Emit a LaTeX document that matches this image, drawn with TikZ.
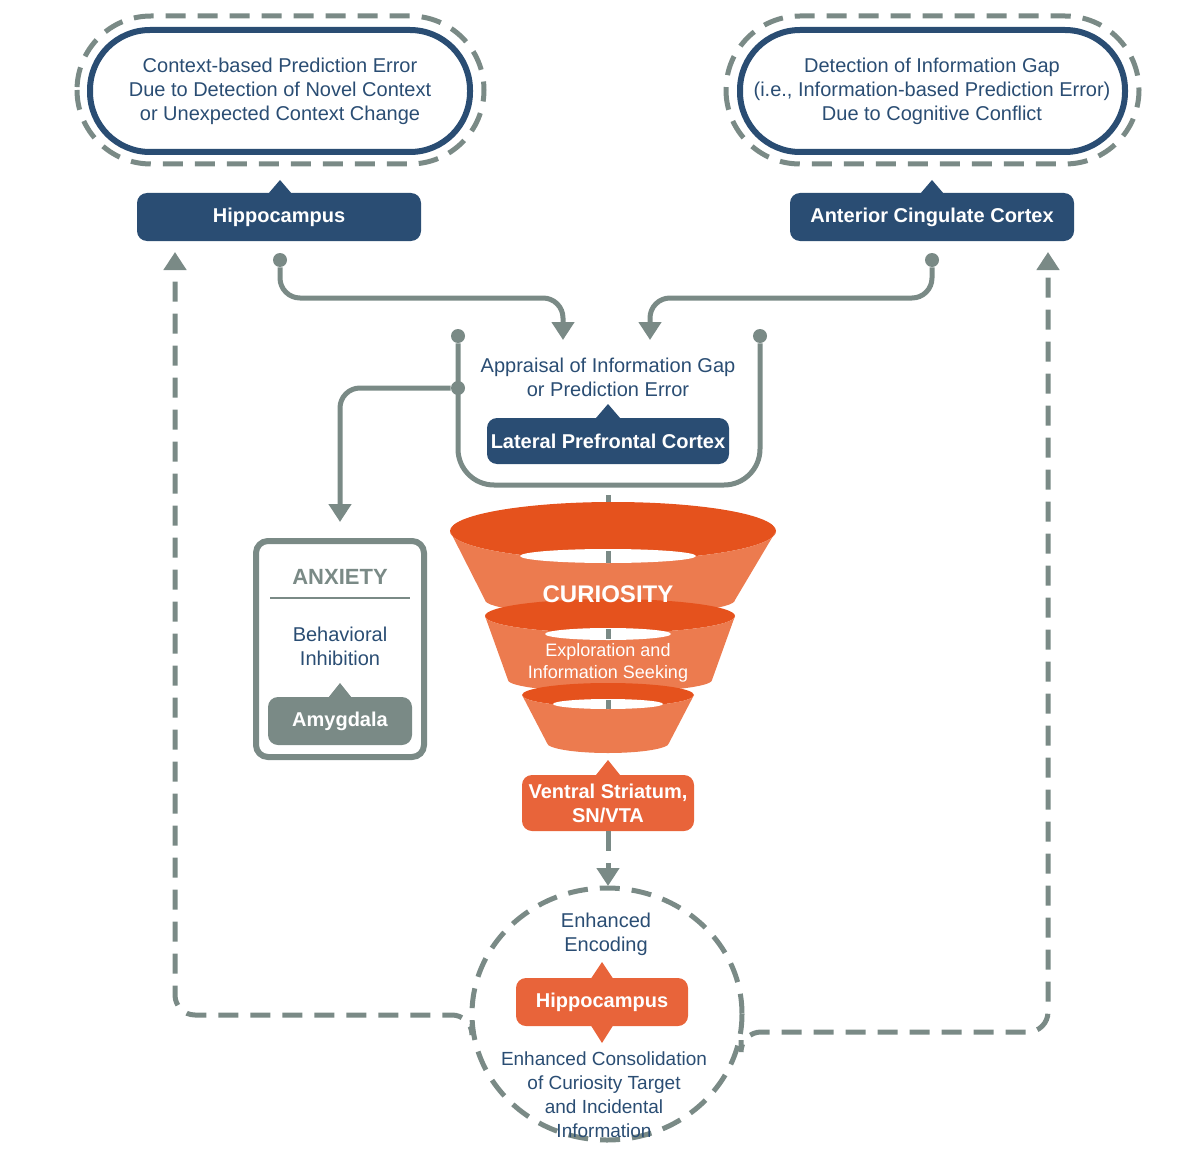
\documentclass[tikz,border=0pt]{standalone}
\usepackage{fontspec}
\setmainfont{Liberation Sans}
\usetikzlibrary{arrows.meta}
\definecolor{dblue}{HTML}{2A4D73}
\definecolor{gry}{HTML}{7A8A86}
\definecolor{dor}{HTML}{E5521D}
\definecolor{lor}{HTML}{EC7B4F}
\definecolor{bor}{HTML}{E8643A}
\begin{document}
\begin{tikzpicture}[x=0.5pt,y=-0.5pt,
  txt/.style={text=dblue,font=\fontsize{10}{12}\selectfont,align=center},
  bluebox/.style={fill=dblue,rounded corners=5pt,text=white,font=\bfseries\fontsize{10}{12}\selectfont,align=center,inner sep=0pt},
  orbox/.style={fill=bor,rounded corners=5pt,text=white,font=\bfseries\fontsize{10}{12}\selectfont,align=center,inner sep=0pt},
  conn/.style={draw=gry,line width=2.5pt,rounded corners=10pt},
  dconn/.style={conn,dash pattern=on 10pt off 6pt},
  tip/.style={-{Triangle[length=9pt,width=11pt]}},
  dot/.style={circle,fill=gry,inner sep=0pt,minimum size=7pt}]
\useasboundingbox (0,0) rectangle (1200,1172);
% top pills
\draw[gry,line width=2.5pt,dash pattern=on 10pt off 6pt,rounded corners=37pt] (77,16) rectangle (484,164);
\draw[dblue,line width=3pt,rounded corners=30pt] (90,30) rectangle (470,152);
\node[txt] (ctx) at (280,91) {Context-based Prediction Error\\Due to Detection of Novel Context\\or Unexpected Context Change};
\draw[gry,line width=2.5pt,dash pattern=on 10pt off 6pt,rounded corners=37pt] (726,16) rectangle (1139,164);
\draw[dblue,line width=3pt,rounded corners=30pt] (740,30) rectangle (1125,152);
\node[txt] (gap) at (932,91) {Detection of Information Gap\\(i.e., Information-based Prediction Error)\\Due to Cognitive Conflict};
% top boxes
\fill[dblue] (268,194) -- (280,180) -- (292,194) -- cycle;
\node[bluebox,minimum width=142pt,minimum height=24pt] (hip) at (279,217) {Hippocampus};
\fill[dblue] (920,194) -- (932,180) -- (944,194) -- cycle;
\node[bluebox,minimum width=142pt,minimum height=24pt] (acc) at (932,217) {Anterior Cingulate Cortex};
% arrows to LPFC
\node[dot] (d1) at (280,260) {};
\node[dot] (d2) at (932,260) {};
\coordinate (a1) at (563,340);
\coordinate (a2) at (650,340);
\draw[conn,tip] (d1) -- (280,298) -- (563,298) -- (a1);
\draw[conn,tip] (d2) -- (932,298) -- (650,298) -- (a2);
% bracket
\node[dot] (d3) at (458,336) {};
\node[dot] (d4) at (760,336) {};
\node[dot] (d5) at (458,388) {};
\draw[conn,rounded corners=18pt] (d3) -- (458,485) -- (760,485) -- (d4);
\coordinate (anxtop) at (340,522);
\draw[conn,tip] (d5) -- (340,388) -- (anxtop);
\node[txt] (appr) at (608,377) {Appraisal of Information Gap\\or Prediction Error};
\fill[dblue] (596,418) -- (608,404) -- (620,418) -- cycle;
\node[bluebox,minimum width=121pt,minimum height=23pt] (lpfc) at (608,441) {Lateral Prefrontal Cortex};
% funnel
\draw[gry,line width=2.5pt,dash pattern=on 10pt off 6pt] (608,495) -- (608,740);
\fill[dor] (613,531) ellipse (163 and 29);
\fill[lor] (450,531) -- (485,600) arc[start angle=180,end angle=0,x radius=125,y radius=15] -- (776,531) arc[start angle=0,end angle=180,x radius=163,y radius=29] -- cycle;
\fill[white] (608,556) ellipse (88 and 7);
\draw[gry,line width=2.5pt] (608,551) -- (608,563);
\fill[dor] (610,616) ellipse (125 and 17);
\fill[lor] (485,616) -- (508,680) arc[start angle=180,end angle=0,x radius=102,y radius=12] -- (735,616) arc[start angle=0,end angle=180,x radius=125,y radius=17] -- cycle;
\fill[white] (608,634) ellipse (63 and 6);
\fill[dor] (608,695) ellipse (86 and 12);
\fill[lor] (522,695) -- (547,743) arc[start angle=180,end angle=0,x radius=61,y radius=10] -- (694,695) arc[start angle=0,end angle=180,x radius=86,y radius=12] -- cycle;
\fill[white] (608,704) ellipse (55 and 5);
\draw[gry,line width=2.5pt] (608,629) -- (608,639) (608,700) -- (608,709);
\node[text=white,font=\bfseries\fontsize{12}{14}\selectfont] (cur) at (608,594) {CURIOSITY};
\node[text=white,font=\fontsize{9}{11}\selectfont,align=center] (expl) at (608,663) {Exploration and\\Information Seeking};
% ventral striatum
\fill[bor] (596,775) -- (608,760) -- (620,775) -- cycle;
\node[orbox,minimum width=86pt,minimum height=28pt] (vs) at (608,803) {Ventral Striatum,\\SN/VTA};
\coordinate (ctop) at (608,886);
\draw[dconn,tip] (vs.south) -- (ctop);
% anxiety
\draw[gry,line width=3pt,rounded corners=6pt] (256,541) rectangle (424,757);
\node[text=gry,font=\bfseries\fontsize{11}{13}\selectfont] (anx) at (340,577) {ANXIETY};
\draw[gry,line width=1.2pt] (270,598) -- (410,598);
\node[txt] (beh) at (340,646) {Behavioral\\Inhibition};
\fill[gry] (328,698) -- (340,683) -- (352,698) -- cycle;
\node[fill=gry,rounded corners=5pt,text=white,font=\bfseries\fontsize{10}{12}\selectfont,minimum width=72pt,minimum height=24pt,inner sep=0pt] (amy) at (340,721) {Amygdala};
% bottom circle
\draw[gry,line width=2.5pt,dash pattern=on 10pt off 6pt] (607,1014) ellipse (135 and 126);
\node[txt] (enc) at (606,934) {Enhanced\\Encoding};
\fill[bor] (590,980) -- (602,962) -- (614,980) -- cycle;
\fill[bor] (590,1024) -- (602,1043) -- (614,1024) -- cycle;
\node[orbox,minimum width=86pt,minimum height=24pt] (hip2) at (602,1002) {Hippocampus};
\node[txt,font=\fontsize{9.5}{12}\selectfont] (cons) at (604,1095) {Enhanced Consolidation\\of Curiosity Target\\and Incidental\\Information};
% feedback loops
\coordinate (lt) at (175,252);
\coordinate (rt) at (1048,252);
\draw[dconn,tip] (472,1024) -- (472,1015) -- (175,1015) -- (lt);
\draw[dconn,tip] (741,1040) -- (741,1032) -- (1048,1032) -- (rt);
\end{tikzpicture}
\end{document}
